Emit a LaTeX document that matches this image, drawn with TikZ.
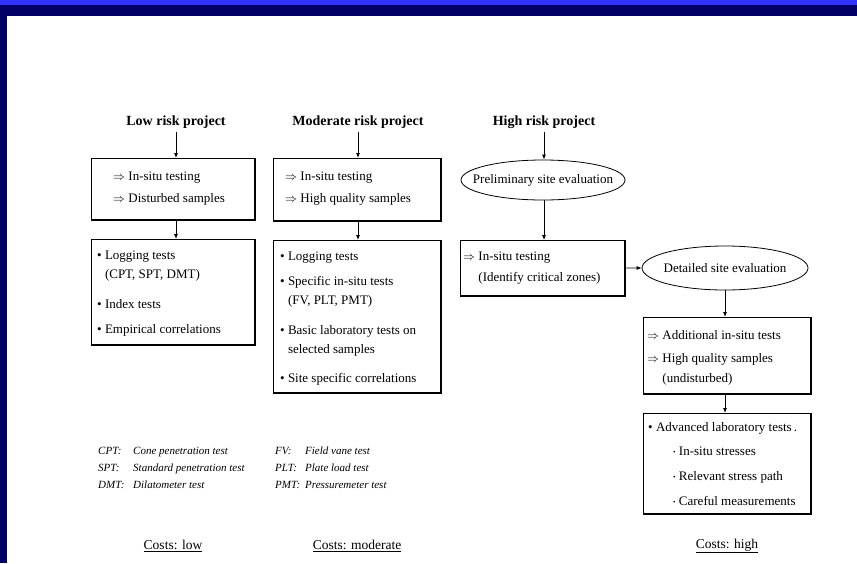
\documentclass[tikz,border=0pt]{standalone}
\usepackage{fontspec}
\setmainfont{Liberation Serif}
\usetikzlibrary{arrows.meta,shapes.geometric}
\definecolor{barblue}{HTML}{3333FF}
\definecolor{navyband}{HTML}{000066}
\newcommand\myfs[1]{\fontsize{#1}{#1}\selectfont}
\newcommand\bul{\textbullet\ }
\newcommand\pbul{\phantom{\textbullet\ }}
\newcommand\arr{$\Rightarrow$\ }
\newcommand\parr{\phantom{$\Rightarrow$\ }}
\newcommand\sbul{\raisebox{0.2ex}{\scalebox{0.55}{\textbullet}}\ }
\begin{document}
\begin{tikzpicture}[x=1pt,y=-1pt,
  box/.style={draw, line width=0.8pt, anchor=north west, inner sep=0pt},
  shadowline/.style={line width=1.6pt},
  ell/.style={draw, ellipse, line width=0.8pt, inner sep=0pt},
  etxt/.style={inner sep=0pt, font=\myfs{13}},
  txt/.style={anchor=mid west, inner sep=0pt, font=\myfs{13}},
  ttl/.style={inner sep=3pt, font=\myfs{14}\bfseries},
  leg/.style={anchor=mid west, inner sep=0pt, font=\myfs{11}\itshape},
  cost/.style={inner sep=0pt, font=\myfs{13.5}},
  arr/.style={-{Latex[length=5pt,width=4pt]}, line width=0.8pt}
]
\useasboundingbox (0,0) rectangle (857,563);
\fill[white] (0,0) rectangle (857,563);
\fill[barblue] (0,0) rectangle (857,5);
\fill[navyband] (0,5) rectangle (857,16);
\fill[navyband] (0,16) rectangle (7,563);

% titles
\node[ttl] (ttl1) at (176,122) {Low risk project};
\node[ttl] (ttl2) at (358,122) {Moderate risk project};
\node[ttl] (ttl3) at (544,122) {High risk project};

% boxes
\node[box, minimum width=163pt, minimum height=61pt] (b1) at (91,158) {};
\node[box, minimum width=163pt, minimum height=105pt] (b2) at (91,239) {};
\node[box, minimum width=167pt, minimum height=62pt] (b3) at (273,158) {};
\node[box, minimum width=167pt, minimum height=152pt] (b4) at (273,240) {};
\node[box, minimum width=164pt, minimum height=55pt] (b5) at (460,240) {};
\node[box, minimum width=167pt, minimum height=76pt] (b6) at (643,317) {};
\node[box, minimum width=167pt, minimum height=100pt] (b7) at (643,413) {};
\foreach \b in {b1,b2,b3,b4,b5,b6,b7}
  \draw[shadowline] (\b.north east) -- (\b.south east) -- (\b.south west);

% ellipses
\node[ell, minimum width=164pt, minimum height=40pt] (e1) at (543,180) {};
\node[etxt] (e1t) at (e1.center) {Preliminary site evaluation};
\node[ell, minimum width=166pt, minimum height=44pt] (e2) at (725,268) {};
\node[etxt] (e2t) at (e2.center) {Detailed site evaluation};

% box texts
\node[txt] (t1a) at (113,178) {\arr In-situ testing};
\node[txt] (t1b) at (113,200) {\arr Disturbed samples};

\node[txt] (t2a) at (97,257) {\bul Logging tests};
\node[txt] (t2b) at (97,276) {\pbul(CPT, SPT, DMT)};
\node[txt] (t2c) at (97,306) {\bul Index tests};
\node[txt] (t2d) at (97,331) {\bul Empirical correlations};

\node[txt] (t3a) at (285,178) {\arr In-situ testing};
\node[txt] (t3b) at (285,200) {\arr High quality samples};

\node[txt] (t4a) at (280,258) {\bul Logging tests};
\node[txt] (t4b) at (280,283) {\bul Specific in-situ tests};
\node[txt] (t4c) at (280,302) {\pbul(FV, PLT, PMT)};
\node[txt] (t4d) at (280,332) {\bul Basic laboratory tests on};
\node[txt] (t4e) at (280,351) {\pbul selected samples};
\node[txt] (t4f) at (280,380) {\bul Site specific correlations};

\node[txt] (t5a) at (463,258) {\arr In-situ testing};
\node[txt] (t5b) at (463,279) {\parr(Identify critical zones)};

\node[txt] (t6a) at (647,337) {\arr Additional in-situ tests};
\node[txt] (t6b) at (647,360) {\arr High quality samples};
\node[txt] (t6c) at (647,380) {\parr(undisturbed)};

\node[txt] (t7a) at (648,429) {\bul Advanced laboratory tests\,.};
\node[txt] (t7b) at (673,453) {\sbul In-situ stresses};
\node[txt] (t7c) at (673,478) {\sbul Relevant stress path};
\node[txt] (t7d) at (673,503) {\sbul Careful measurements};

% legend
\node[leg] (l1a) at (98,452) {CPT:};
\node[leg] (l1b) at (133,452) {Cone penetration test};
\node[leg] (l2a) at (98,469) {SPT:};
\node[leg] (l2b) at (133,469) {Standard penetration test};
\node[leg] (l3a) at (98,486) {DMT:};
\node[leg] (l3b) at (133,486) {Dilatometer test};
\node[leg] (l4a) at (275,452) {FV:};
\node[leg] (l4b) at (305,452) {Field vane test};
\node[leg] (l5a) at (275,469) {PLT:};
\node[leg] (l5b) at (305,469) {Plate load test};
\node[leg] (l6a) at (275,486) {PMT:};
\node[leg] (l6b) at (305,486) {Pressuremeter test};

% costs
\node[cost] (c1) at (173,546) {\underline{Costs: low}};
\node[cost] (c2) at (357,546) {\underline{Costs: moderate}};
\node[cost] (c3) at (727,546) {\underline{Costs: high}};

% connectors
\draw[arr] (ttl1.south) -- (ttl1.south |- b1.north);
\draw[arr] (ttl1.south |- b1.south) -- (ttl1.south |- b2.north);
\draw[arr] (ttl2.south) -- (ttl2.south |- b3.north);
\draw[arr] (ttl2.south |- b3.south) -- (ttl2.south |- b4.north);
\draw[arr] (ttl3.south) -- (ttl3.south |- e1.north);
\draw[arr] (ttl3.south |- e1.south) -- (ttl3.south |- b5.north);
\draw[arr] (b5.east) -- (e2.west);
\draw[arr] (e2.south) -- (e2.south |- b6.north);
\draw[arr] (e2.south |- b6.south) -- (e2.south |- b7.north);
\end{tikzpicture}
\end{document}
